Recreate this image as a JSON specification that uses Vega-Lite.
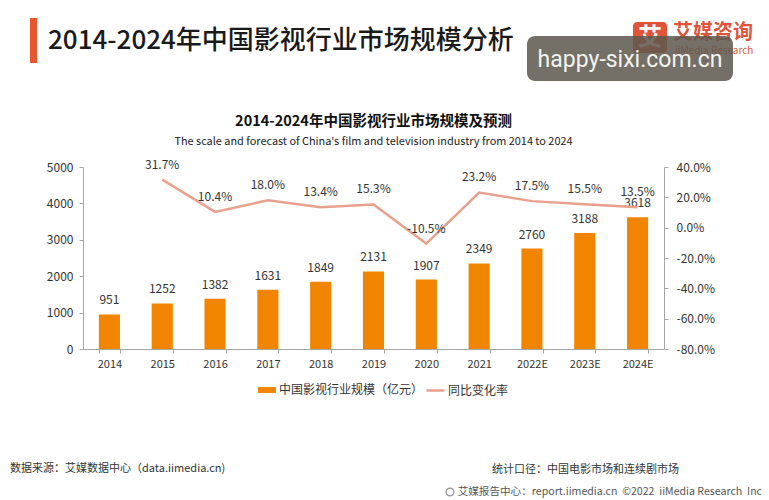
{
  "$schema": "https://vega.github.io/schema/vega-lite/v6.json",
  "width": 581,
  "height": 182,
  "autosize": {"type": "none"},
  "padding": {"left": 83, "top": 167, "right": 105, "bottom": 151},
  "background": "white",
  "config": {
    "font": "Noto Sans CJK SC",
    "view": {"stroke": null},
    "locale": {"number": {"decimal": ".", "thousands": ",", "grouping": [3], "currency": ["", ""], "minus": "-"}}
  },
  "title": {
    "text": "2014-2024年中国影视行业市场规模及预测",
    "subtitle": "The scale and forecast of China's film and television industry from 2014 to 2024",
    "anchor": "middle",
    "fontSize": 14.5,
    "fontWeight": "bold",
    "color": "#111111",
    "subtitleFontSize": 10.9,
    "subtitleColor": "#222222",
    "subtitlePadding": 7,
    "offset": -130
  },
  "data": {
    "values": [
      {"year": "2014", "size": 951, "rate": null},
      {"year": "2015", "size": 1252, "rate": 0.317},
      {"year": "2016", "size": 1382, "rate": 0.104},
      {"year": "2017", "size": 1631, "rate": 0.18},
      {"year": "2018", "size": 1849, "rate": 0.134},
      {"year": "2019", "size": 2131, "rate": 0.153},
      {"year": "2020", "size": 1907, "rate": -0.105},
      {"year": "2021", "size": 2349, "rate": 0.232},
      {"year": "2022E", "size": 2760, "rate": 0.175},
      {"year": "2023E", "size": 3188, "rate": 0.155},
      {"year": "2024E", "size": 3618, "rate": 0.135}
    ]
  },
  "layer": [
    {
      "encoding": {
        "x": {
          "field": "year",
          "type": "nominal",
          "sort": null,
          "scale": {"paddingInner": 0.6, "paddingOuter": 0.3},
          "axis": {
            "title": null,
            "labelAngle": 0,
            "labelFontSize": 11,
            "labelColor": "#333333",
            "labelPadding": 5,
            "domainColor": "#A6A6A6",
            "tickColor": "#A6A6A6",
            "tickSize": 4,
            "tickBand": "extent"
          }
        }
      },
      "layer": [
        {
          "mark": {"type": "bar"},
          "encoding": {
            "y": {
              "field": "size",
              "type": "quantitative",
              "scale": {"domain": [0, 5000], "nice": false},
              "axis": {
                "title": null,
                "grid": false,
                "tickCount": 6,
                "format": "d",
                "labelOverlap": false,
                "labelFontSize": 12,
                "labelColor": "#333333",
                "labelPadding": 6,
                "domainColor": "#A6A6A6",
                "tickColor": "#A6A6A6",
                "tickSize": 4
              }
            },
            "fill": {
              "datum": "中国影视行业规模（亿元）",
              "scale": {"range": ["#F28500"]},
              "legend": {
                "title": null,
                "orient": "none",
                "legendX": 174,
                "legendY": 213,
                "padding": 0,
                "symbolType": "M-1,-0.33H1V0.33H-1Z",
                "symbolSize": 324,
                "labelFontSize": 12,
                "labelColor": "#333333",
                "labelOffset": 2
              }
            }
          }
        },
        {
          "mark": {"type": "text", "dy": -10, "baseline": "alphabetic", "fontSize": 12, "color": "#333333"},
          "encoding": {
            "y": {"field": "size", "type": "quantitative"},
            "text": {"field": "size", "type": "quantitative", "format": "d"}
          }
        }
      ]
    },
    {
      "encoding": {
        "x": {"field": "year", "type": "nominal", "sort": null}
      },
      "layer": [
        {
          "mark": {"type": "line", "strokeWidth": 2.5},
          "encoding": {
            "y": {
              "field": "rate",
              "type": "quantitative",
              "scale": {"domain": [-0.8, 0.4], "nice": false},
              "axis": {
                "title": null,
                "grid": false,
                "orient": "right",
                "format": ".1%",
                "tickCount": 7,
                "labelOverlap": false,
                "labelFontSize": 12,
                "labelColor": "#333333",
                "labelPadding": 8,
                "domainColor": "#A6A6A6",
                "tickColor": "#A6A6A6",
                "tickSize": 4
              }
            },
            "stroke": {
              "datum": "同比变化率",
              "scale": {"range": ["#E8A18C"]},
              "legend": {
                "title": null,
                "orient": "none",
                "legendX": 342,
                "legendY": 213,
                "padding": 0,
                "symbolType": "stroke",
                "symbolSize": 324,
                "symbolStrokeWidth": 2.5,
                "labelFontSize": 12,
                "labelColor": "#333333",
                "labelOffset": 2
              }
            }
          }
        },
        {
          "transform": [{"filter": "datum.rate != null"}],
          "mark": {"type": "text", "dy": -11, "baseline": "alphabetic", "fontSize": 12, "color": "#333333"},
          "encoding": {
            "y": {"field": "rate", "type": "quantitative"},
            "text": {"field": "rate", "type": "quantitative", "format": ".1%"}
          }
        }
      ]
    },
    {
      "data": {"values": [{}]},
      "layer": [
        {"mark": {"type": "rect", "x": -53, "x2": -46, "y": -149, "y2": -104, "fill": "#E8562E"}, "encoding": {}},
        {"mark": {"type": "text", "x": -35, "y": -126, "text": "2014-2024年中国影视行业市场规模分析", "fontSize": 26, "fontWeight": 500, "baseline": "middle", "align": "left", "color": "#1a1a1a"}, "encoding": {}},
        {"mark": {"type": "rect", "x": 550, "x2": 584, "y": -145, "y2": -114, "cornerRadius": 4, "fill": "#E0553A"}, "encoding": {}},
        {"mark": {"type": "text", "x": 567, "y": -129, "text": "艾", "fontSize": 24, "fontWeight": "bold", "baseline": "middle", "align": "center", "color": "white"}, "encoding": {}},
        {"mark": {"type": "text", "x": 590, "y": -134, "text": "艾媒咨询", "fontSize": 20, "fontWeight": "bold", "baseline": "middle", "align": "left", "color": "#E0553A"}, "encoding": {}},
        {"mark": {"type": "text", "x": 592, "y": -116, "text": "iiMedia Research", "fontSize": 10, "baseline": "middle", "align": "left", "color": "#E0553A"}, "encoding": {}},
        {"mark": {"type": "rect", "x": 444, "x2": 650, "y": -131, "y2": -86, "cornerRadius": 8, "fill": "#5E594E", "opacity": 0.86}, "encoding": {}},
        {"mark": {"type": "text", "x": 547, "y": -107, "text": "happy-sixi.com.cn", "font": "Roboto", "fontSize": 23, "baseline": "middle", "align": "center", "color": "#F3F3EE"}, "encoding": {}},
        {"mark": {"type": "text", "x": -73, "y": 302, "text": "数据来源：艾媒数据中心（data.iimedia.cn)", "fontSize": 11, "baseline": "middle", "align": "left", "color": "#333333"}, "encoding": {}},
        {"mark": {"type": "text", "x": 409, "y": 303, "text": "统计口径：中国电影市场和连续剧市场", "fontSize": 11, "baseline": "middle", "align": "left", "color": "#333333"}, "encoding": {}},
        {"mark": {"type": "rule", "x": -83, "x2": 686, "y": 314, "y2": 314, "stroke": "#8C8C8C", "strokeWidth": 2}, "encoding": {}},
        {"mark": {"type": "point", "x": 367, "y": 325, "shape": "circle", "size": 60, "stroke": "#666666", "strokeWidth": 1.2, "filled": false}, "encoding": {}},
        {"mark": {"type": "text", "x": 679, "y": 325, "text": "艾媒报告中心：report.iimedia.cn\u00a0\u00a0©2022\u00a0\u00a0iiMedia Research\u00a0\u00a0Inc", "fontSize": 10.6, "baseline": "middle", "align": "right", "color": "#555555"}, "encoding": {}}
      ]
    }
  ],
  "resolve": {"scale": {"y": "independent", "fill": "independent", "stroke": "independent"}}
}
